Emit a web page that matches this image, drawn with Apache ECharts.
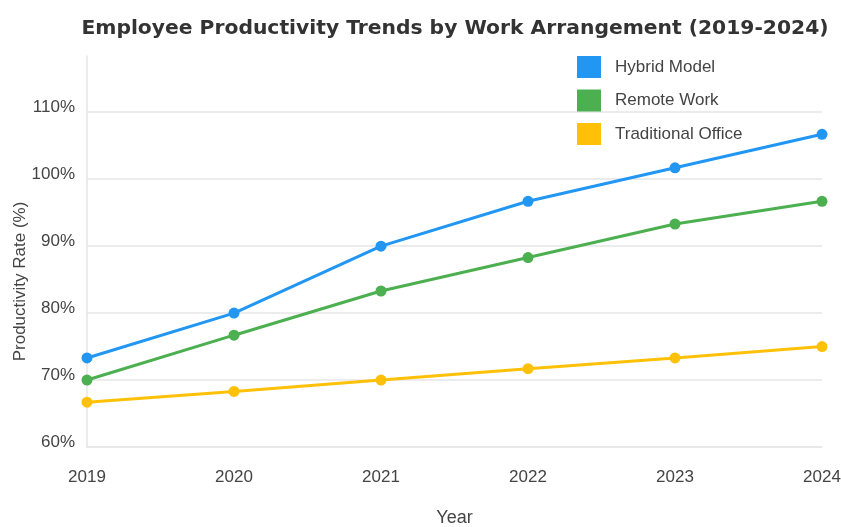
<!DOCTYPE html>
<html>
<head>
<meta charset="utf-8">
<script src="https://cdn.jsdelivr.net/npm/echarts@6/dist/echarts.min.js"></script>
<style>
  html, body { margin: 0; padding: 0; background: #fff; }
  #chart { width: 841px; height: 527px; }
</style>
</head>
<body>
<div id="chart"></div>
<script>
// data
const years = ['2019', '2020', '2021', '2022', '2023', '2024']
const hybridModel = [73.3, 80, 90, 96.7, 101.7, 106.7]
const remoteWork = [70, 76.7, 83.3, 88.3, 93.3, 96.7]
const traditionalOffice = [66.7, 68.3, 70, 71.7, 73.3, 75]

const seriesNames = ['Hybrid Model', 'Remote Work', 'Traditional Office']
const colors = ['#2196F3', '#4CAF50', '#FFC107']

const baseFont = 'Liberation Sans, Arial, sans-serif'

const chart = echarts.init(document.getElementById('chart'))

function lineSeries(name, data, color) {
  return {
    name: name,
    type: 'line',
    data: data,
    symbol: 'circle',
    symbolSize: 11,
    lineStyle: { width: 3, color: color },
    itemStyle: { color: color },
  }
}

const option = {
  animation: false,
  title: {
    text: 'Employee Productivity Trends by Work Arrangement (2019-2024)',
    left: 450,
    top: 14,
    textAlign: 'center',
    textStyle: {
      fontFamily: 'DejaVu Sans, sans-serif',
      fontSize: 20.3,
      fontWeight: 'bold',
      color: '#333',
    },
  },
  legend: {
    orient: 'vertical',
    left: 577,
    top: 56,
    padding: 0,
    itemWidth: 24,
    itemHeight: 22,
    itemGap: 11.5,
    icon: 'rect',
    data: seriesNames,
    textStyle: {
      fontFamily: baseFont,
      fontSize: 17,
      color: '#444',
      padding: [0, 0, 0, 9],
    },
  },
  grid: {
    left: 87,
    right: 19,
    top: 56,
    bottom: 80,
    outerBoundsMode: 'none',
  },
  xAxis: {
    type: 'category',
    data: years,
    boundaryGap: false,
    name: 'Year',
    nameLocation: 'middle',
    nameGap: 62,
    nameMoveOverlap: false,
    nameTextStyle: {
      fontFamily: baseFont,
      fontSize: 18,
      color: '#444',
    },
    axisLine: { show: true, lineStyle: { color: '#e6e6e6', width: 1.5 } },
    axisTick: { show: false },
    axisLabel: {
      fontFamily: baseFont,
      fontSize: 17,
      color: '#444',
      margin: 22,
    },
  },
  yAxis: {
    type: 'value',
    min: 60,
    max: 118.4,
    interval: 10,
    name: 'Productivity Rate (%)',
    nameLocation: 'middle',
    nameGap: 58,
    nameMoveOverlap: false,
    nameTextStyle: {
      fontFamily: baseFont,
      fontSize: 17,
      color: '#444',
      padding: [0, 0, 0, -60],
    },
    axisLine: { show: true, lineStyle: { color: '#e6e6e6', width: 1.5 } },
    axisTick: { show: false },
    splitLine: { show: true, showMaxLine: false, lineStyle: { color: '#e6e6e6', width: 1.5 } },
    axisLabel: {
      fontFamily: baseFont,
      fontSize: 17,
      color: '#444',
      margin: 12,
      verticalAlign: 'bottom',
      lineHeight: 9,
      showMaxLabel: false,
      formatter: function (v) {
        return v % 10 === 0 ? v + '%' : ''
      },
    },
  },
  series: [
    lineSeries(seriesNames[0], hybridModel, colors[0]),
    lineSeries(seriesNames[1], remoteWork, colors[1]),
    lineSeries(seriesNames[2], traditionalOffice, colors[2]),
  ],
}

chart.setOption(option)
</script>
</body>
</html>
